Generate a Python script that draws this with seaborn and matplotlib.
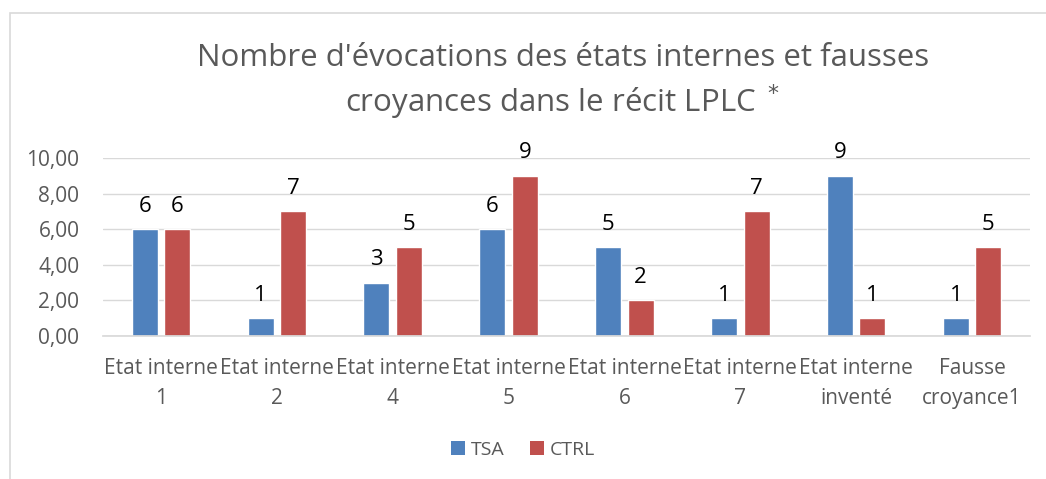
import matplotlib
matplotlib.use("Agg")
import matplotlib.pyplot as plt
import seaborn as sns
import pandas as pd
from matplotlib.patches import Rectangle, Patch
from matplotlib.ticker import FuncFormatter

categories = ["Etat interne\n1", "Etat interne\n2", "Etat interne\n4", "Etat interne\n5",
              "Etat interne\n6", "Etat interne\n7", "Etat interne\ninventé", "Fausse\ncroyance1"]
tsa = [6, 1, 3, 6, 5, 1, 9, 1]
ctrl = [6, 7, 5, 9, 2, 7, 1, 5]
groups = ["TSA", "CTRL"]
colors = ["#4f81bd", "#c0504d"]

df = pd.DataFrame({
    "cat": categories * 2,
    "val": tsa + ctrl,
    "grp": ["TSA"] * len(tsa) + ["CTRL"] * len(ctrl),
})

sns.set_theme(style="white")
plt.rcParams["font.family"] = ["Open Sans", "DejaVu Sans"]

fig = plt.figure(figsize=(10.46, 4.79), dpi=100)
ax = fig.add_axes([103 / 1046, 1 - 336 / 479, 927 / 1046, 178 / 479])

sns.barplot(data=df, x="cat", y="val", hue="grp", hue_order=groups, palette=colors,
            width=0.56, gap=0.2, saturation=1, ax=ax, legend=False)

for c in ax.containers:
    ax.bar_label(c, fmt="%g", padding=9, fontsize=16, color="black")

ax.set_ylim(0, 10)
ax.set_yticks([0, 2, 4, 6, 8, 10])
ax.yaxis.set_major_formatter(FuncFormatter(lambda v, p: f"{v:.2f}".replace(".", ",")))
ax.grid(axis="y", color="#d9d9d9", linewidth=1)
ax.set_axisbelow(True)
for s in ["top", "right", "left"]:
    ax.spines[s].set_visible(False)
ax.spines["bottom"].set_color("#d9d9d9")
ax.tick_params(axis="y", length=0, labelsize=15, colors="#595959", pad=17)
ax.tick_params(axis="x", length=0, labelsize=15, colors="#595959", pad=16)
for t in ax.get_xticklabels():
    t.set_linespacing(1.55)
ax.set_xlabel("")
ax.set_ylabel("")
ax.set_xlim(-0.5, 7.5)

handles = [Patch(facecolor=col, edgecolor="none", label=g) for g, col in zip(groups, colors)]
leg = ax.legend(handles=handles, loc="center", bbox_to_anchor=(0.5, 1 - 450 / 479),
                bbox_transform=fig.transFigure, ncol=2, frameon=False, fontsize=14,
                handlelength=0.7, handleheight=0.7, handletextpad=0.3, columnspacing=1.3)
for t in leg.get_texts():
    t.set_color("#595959")

fig.text(0.538, 1 - 58 / 479, "Nombre d'évocations des états internes et fausses",
         ha="center", va="center", fontsize=22.5, color="#595959")
fig.text(0.538, 1 - 102 / 479, "croyances dans le récit LPLC $^*$",
         ha="center", va="center", fontsize=22.5, color="#595959")

fig.patches.append(Rectangle((10 / 1046, -0.05), 1.1, 1 - 13 / 479 + 0.05, transform=fig.transFigure,
                             fill=False, edgecolor="#d9d9d9", linewidth=1.2))

fig.savefig("out.png", dpi=100)
